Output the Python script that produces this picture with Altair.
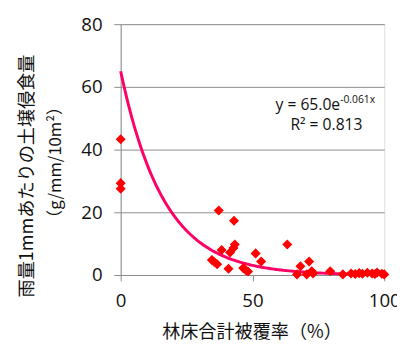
import altair as alt
import pandas as pd

# Data
cover = [0, 0, 0, 37.2, 43.0, 63.2, 38.3, 43.3, 42.8, 41.5, 34.6, 35.4, 36.6,
         40.9, 46.5, 48.3, 47.5, 51.2, 53.3, 66.9, 68.2, 70.6, 71.5, 72.5, 73.0,
         79.5, 84.3, 87.4, 89.0, 90.5, 91.7, 93.6, 95.4, 96.5, 97.3, 99.1, 100.0]
erosion = [43.3, 29.3, 27.5, 20.6, 17.3, 9.7, 8.0, 9.7, 8.6, 7.2, 4.8, 4.2, 3.4,
           2.0, 2.2, 1.1, 1.5, 6.9, 4.3, 0.2, 2.8, 0.2, 4.3, 1.2, 0.5,
           1.2, 0.2, 0.5, 0.3, 0.6, 0.4, 0.7, 0.5, 0.3, 0.8, 0.4, 0.2]

# Trend line parameters as printed on the chart
coef_a = 65.0
coef_b = -0.061

x_ticks = [0, 50, 100]
y_ticks = [0, 20, 40, 60, 80]

df = pd.DataFrame({"x": cover, "y": erosion})

NUM_FONT = "Open Sans"
JP_FONT = "Noto Sans CJK JP"

xscale = alt.Scale(domain=[0, 100], nice=False)
yscale = alt.Scale(domain=[0, 80], nice=False)

xaxis = alt.Axis(values=x_ticks, grid=False, title=None, labelFont=NUM_FONT,
                 labelFontSize=19, labelColor="#111", domainColor="#8c8c8c",
                 tickColor="#8c8c8c", tickSize=6, labelPadding=11,
                 labelFlush=False, labelOverlap=False)
yaxis = alt.Axis(values=y_ticks, grid=True, gridColor="#8c8c8c", title=None,
                 labelFont=NUM_FONT, labelFontSize=19, labelColor="#111",
                 domainColor="#8c8c8c", tickColor="#8c8c8c", tickSize=7,
                 labelPadding=12)

base = alt.Chart(df)

points = base.mark_point(shape="diamond", filled=True, color="#ff0000",
                         size=105, opacity=1).encode(
    x=alt.X("x:Q", scale=xscale, axis=xaxis),
    y=alt.Y("y:Q", scale=yscale, axis=yaxis),
)

curve = alt.Chart(alt.sequence(0, 100.5, 0.5, as_="x")).transform_calculate(
    y=f"{coef_a} * exp({coef_b} * datum.x)"
).mark_line(color="#ff0066", strokeWidth=3).encode(
    x=alt.X("x:Q", scale=xscale),
    y=alt.Y("y:Q", scale=yscale),
)

def label(txt, x, y, size, font, angle=0, align="center", baseline="middle"):
    return alt.Chart(pd.DataFrame({"t": [txt]})).mark_text(
        font=font, fontSize=size, color="#111", angle=angle, align=align,
        baseline=baseline,
    ).encode(x=alt.value(x), y=alt.value(y), text="t:N")

eq_main = label("y = 65.0e", 224, 83, 16, NUM_FONT, align="right")
eq_sup = label("-0.061x", 224, 77, 10.5, NUM_FONT, align="left")
r2 = label("R² = 0.813", 210, 103, 16, NUM_FONT)

xtitle = label("林床合計被覆率（%）", 134, 314, 18.5, JP_FONT)
ytitle1 = label("雨量1mmあたりの土壌侵食量", -95, 155, 18.5, JP_FONT, angle=270)
ytitle2 = label("（g/mm/10m²）", -66, 141, 17, JP_FONT, angle=270)

chart = alt.layer(
    curve, points, eq_main, eq_sup, r2, xtitle, ytitle1, ytitle2
).properties(
    width=269, height=256, autosize="none",
    padding={"left": 115, "top": 13, "right": 13, "bottom": 72},
).configure_view(stroke=None).configure(background="white")

chart.save("out.html", embed_options={"renderer": "svg", "actions": False})
